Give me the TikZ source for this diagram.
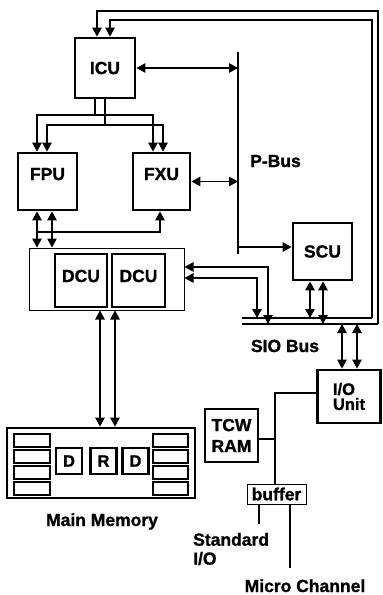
\documentclass[tikz,border=0pt]{standalone}
\usepackage{fontspec}
\setmainfont{Liberation Sans}[BoldFeatures={FakeBold=1.2}]
\usetikzlibrary{arrows.meta, positioning}

\begin{document}
\begin{tikzpicture}[
        x=1pt, y=-1pt,
        box/.style = {draw, rectangle, line width=2.8pt, inner sep=0pt, align=center, font=\bfseries\fontsize{17.5}{21}\selectfont},
        thinbox/.style = {box, line width=1pt},
        lbl/.style = {inner sep=0pt, align=left, font=\bfseries\fontsize{17.5}{19}\selectfont},
        arrow/.style = {line width=1.1pt, -{Triangle[length=9pt, width=9.5pt]}},
        dblarrow/.style = {line width=1.1pt, {Triangle[length=9pt, width=9.5pt]}-{Triangle[length=9pt, width=9.5pt]}},
        bus/.style = {line width=1.1pt}
    ]
        \useasboundingbox (0,0) rectangle (383,595);

        \node (icu) [box, minimum width=60pt, minimum height=60pt] at (105,68) {ICU};
        \node (fpu) [box, minimum width=59pt, minimum height=57pt, text height=13pt, text depth=16pt] at (47.5,181.5) {FPU};
        \node (fxu) [box, minimum width=57pt, minimum height=57pt, text height=13pt, text depth=16pt] at (161.5,181.5) {FXU};
        \node (dcubox) [thinbox, minimum width=155pt, minimum height=62pt] at (106.5,279) {};
        \node (dcua) [box, minimum width=52pt, minimum height=53pt, text height=13pt, text depth=10pt] at (81,280.5) {DCU};
        \node (dcub) [box, minimum width=53pt, minimum height=53pt, text height=13pt, text depth=10pt] at (138.5,280.5) {DCU};
        \node (scu) [box, minimum width=59pt, minimum height=57pt] at (322.5,251.5) {SCU};
        \node (io) [box, minimum width=63pt, minimum height=53pt, align=left, font=\bfseries\fontsize{16.5}{15}\selectfont] at (349,396.5) {I/O\\Unit};
        \node (tcw) [box, minimum width=53pt, minimum height=53pt] at (231.5,435.5) {TCW\\RAM};
        \node (buffer) [thinbox, minimum width=59pt, minimum height=20pt] at (276.5,494) {buffer};
        \node (mem) [box, minimum width=188pt, minimum height=70pt] at (101,463) {};
        \node (dl) [box, line width=2.3pt, minimum width=26pt, minimum height=26pt, font=\bfseries\fontsize{16.5}{18}\selectfont] at (69,461) {D};
        \node (rr) [box, line width=2.3pt, minimum width=26pt, minimum height=26pt, font=\bfseries\fontsize{16.5}{18}\selectfont] at (103.5,461) {R};
        \node (dr) [box, line width=2.3pt, minimum width=26pt, minimum height=26pt, font=\bfseries\fontsize{16.5}{18}\selectfont] at (135.5,461) {D};

        % memory banks
        \foreach \y in {434,450,466,482} {
            \draw[line width=1.4pt] (14,\y) rectangle (50,\y+13);
            \draw[line width=1.4pt] (153,\y) rectangle (188,\y+13);
        }

        \node (pbuslbl) [lbl, anchor=base west] at (250,167) {P-Bus};
        \node (siolbl) [lbl, anchor=base] at (285,352) {SIO Bus};
        \node (memlbl) [lbl, anchor=base] at (102,526) {Main Memory};
        \node (stdlbl) [lbl, anchor=west] at (193,549) {Standard\\I/O};
        \node (mclbl) [lbl, anchor=base] at (305,592) {Micro Channel};

        \coordinate (pbusT) at (238,52);
        \coordinate (pbusB) at (238,254);
        \coordinate (pbusS) at (238,247);
        \coordinate (sioUL) at (242,318);
        \coordinate (sioUR) at (372,318);
        \coordinate (sioLL) at (242,324);
        \coordinate (sioLR) at (378,324);
        \coordinate (loopA) at (372,20);
        \coordinate (loopB) at (378,11);
        \coordinate (treeA) at (95,115);
        \coordinate (treeB) at (105,125);
        \coordinate (fxutap) at (37,232);
        \coordinate (iotap) at (275,393);

        % P-Bus
        \draw[bus] (pbusT) -- (pbusB);
        \draw[dblarrow] (icu.east) -- (icu.east -| pbusT);
        \draw[dblarrow] (fxu.east) -- (fxu.east -| pbusT);
        \draw[arrow] (pbusS) -- (pbusS -| scu.west);

        % SIO Bus
        \draw[bus] (sioUL) -- (sioUR);
        \draw[bus] (sioLL) -- (sioLR);
        \draw[arrow] (sioUR) -- (loopA) -| ([xshift=5pt]icu.north);
        \draw[arrow] (sioLR) -- (loopB) -| ([xshift=-8pt]icu.north);
        \draw[dblarrow] ([yshift=12pt]dcubox.east) -| ([xshift=26pt]sioLL);
        \draw[dblarrow] ([yshift=1pt]dcubox.east) -| ([xshift=15pt]sioUL);
        \draw[dblarrow] ([xshift=-12.5pt]scu.south) -- ([xshift=-12.5pt]scu.south |- sioUL);
        \draw[dblarrow] ([xshift=0.5pt]scu.south) -- ([xshift=0.5pt]scu.south |- sioLL);
        \draw[dblarrow] ([xshift=-7pt]io.north) -- ([xshift=-7pt]io.north |- sioLL);
        \draw[dblarrow] ([xshift=8pt]io.north) -- ([xshift=8pt]io.north |- sioLL);

        \draw[arrow] (icu.south -| treeA) -- (treeA) -| ([xshift=-10.5pt]fpu.north);
        \draw[arrow] (treeA) -| ([xshift=-8.5pt]fxu.north);
        \draw[arrow] (icu.south -| treeB) -- (treeB) -| ([xshift=-0.5pt]fpu.north);
        \draw[arrow] (treeB) -| ([xshift=1.5pt]fxu.north);

        \draw[dblarrow] ([xshift=-10.5pt]fpu.south) -- ([xshift=-10.5pt]fpu.south |- dcubox.north);
        \draw[dblarrow] ([xshift=4.5pt]fpu.south) -- ([xshift=4.5pt]fpu.south |- dcubox.north);
        \draw[arrow] (fxutap) -| ([xshift=-1.5pt]fxu.south);

        \draw[dblarrow] ([xshift=-6.5pt]dcubox.south) -- ([xshift=-6.5pt]dcubox.south |- mem.north);
        \draw[dblarrow] ([xshift=8.5pt]dcubox.south) -- ([xshift=8.5pt]dcubox.south |- mem.north);

        \draw[bus] (io.west |- iotap) -- (iotap) -- (buffer.north -| iotap);
        \draw[bus] ([yshift=-3.5pt]tcw.east) -- ([yshift=-3.5pt]tcw.east -| iotap);
        \draw[bus] ([xshift=-17.5pt]buffer.south) -- ++(0,19);
        \draw[bus] ([xshift=13.5pt]buffer.south) -- ++(0,63);

    \end{tikzpicture}
\end{document}
